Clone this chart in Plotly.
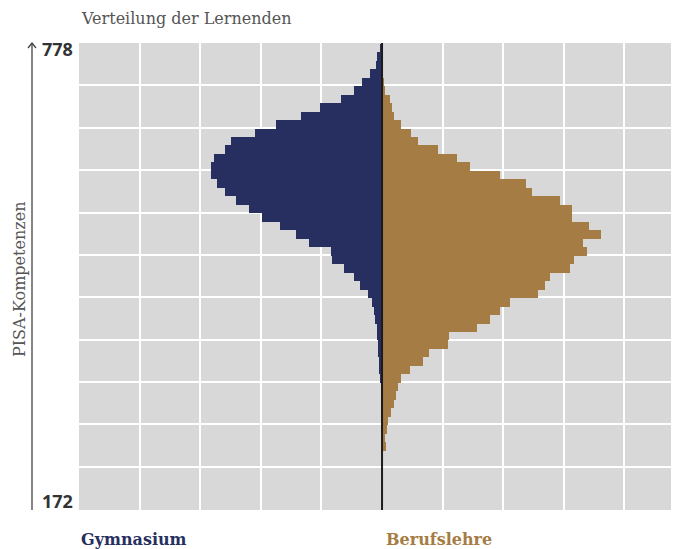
import plotly.graph_objects as go

# ---- data ------------------------------------------------------------
# PISA score bins (lower edges), from the top of the chart downwards
score_bins = [766, 755, 744, 733, 722, 711, 700, 689, 678, 667,
              656, 645, 634, 623, 612, 601, 590, 579, 568, 557,
              546, 535, 524, 513, 502, 491, 480, 469, 458, 447,
              436, 425, 414, 403, 392, 381, 370, 359, 348, 337,
              326, 315, 304, 293, 282, 271, 260, 249, 238, 227,
              216, 205, 194, 183, 172]
bin_width = 11

# share of learners per bin (grid units)
gymnasium = [0.03, 0.08, 0.10, 0.20, 0.33, 0.46, 0.68, 1.02, 1.33, 1.75,
             2.09, 2.49, 2.59, 2.78, 2.83, 2.82, 2.73, 2.59, 2.41, 2.19,
             1.98, 1.68, 1.42, 1.20, 0.84, 0.82, 0.63, 0.46, 0.36, 0.23,
             0.17, 0.13, 0.11, 0.09, 0.08, 0.07, 0.06, 0.05, 0.05, 0.03,
             0.02, 0.01, 0.01, 0.01, 0.01, 0.01, 0.0, 0.0, 0.0, 0.0,
             0.0, 0.0, 0.0, 0.0, 0.0]
berufslehre = [0.0, 0.0, 0.0, 0.0, 0.02, 0.05, 0.13, 0.16, 0.20, 0.31,
               0.48, 0.60, 0.92, 1.24, 1.45, 1.95, 2.38, 2.48, 2.93, 3.13,
               3.13, 3.42, 3.62, 3.32, 3.39, 3.16, 3.10, 2.77, 2.69, 2.57,
               2.11, 1.94, 1.78, 1.56, 1.10, 1.09, 0.77, 0.68, 0.46, 0.32,
               0.27, 0.23, 0.20, 0.14, 0.10, 0.08, 0.05, 0.07, 0.0, 0.0,
               0.0, 0.0, 0.0, 0.0, 0.0]

y_min, y_max = 172, 778
y_grid = [778, 723, 668, 613, 558, 503, 448, 393, 338, 283, 228, 172]
x_grid = [-5, -4, -3, -2, -1, 0, 1, 2, 3, 4]

# ---- style -----------------------------------------------------------
NAVY = "#262f5f"
GOLD = "#a67c45"
GRAY_BG = "#d8d8d8"
TEXT_GRAY = "#555555"
SERIF = "DejaVu Serif"

centers = [b + bin_width / 2 for b in score_bins]

fig = go.Figure()
fig.add_trace(go.Bar(
    y=centers, x=[-v for v in gymnasium], orientation="h",
    width=bin_width, marker=dict(color=NAVY, line=dict(width=0)),
    name="Gymnasium", hoverinfo="skip"))
fig.add_trace(go.Bar(
    y=centers, x=berufslehre, orientation="h",
    width=bin_width, marker=dict(color=GOLD, line=dict(width=0)),
    name="Berufslehre", hoverinfo="skip"))

# the page body has an 8px margin; work in page pixels and compensate
OFF = 8
PAGE_W, PAGE_H = 679, 549
W, H = PAGE_W - OFF, PAGE_H - OFF
plot_l, plot_r, plot_t, plot_b = 79, 679, 43, 510   # page pixels
ml, mr, mt, mb = plot_l - OFF, PAGE_W - plot_r, plot_t - OFF, PAGE_H - plot_b
pw, ph = plot_r - plot_l, plot_b - plot_t


def px_x(p):
    return (p - plot_l) / pw


def px_y(p):
    return (plot_b - p) / ph


fig.update_layout(
    width=W, height=H, autosize=False,
    margin=dict(l=ml, r=mr, t=mt, b=mb, pad=0),
    paper_bgcolor="white", plot_bgcolor=GRAY_BG,
    barmode="overlay", bargap=0, showlegend=False,
    xaxis=dict(range=[-5, 4.9], tickvals=x_grid, showticklabels=False,
               showgrid=True, gridcolor="white", gridwidth=2.2,
               zeroline=False, showline=False, fixedrange=True),
    yaxis=dict(range=[y_min, y_max], tickvals=y_grid, showticklabels=False,
               showgrid=True, gridcolor="white", gridwidth=2.2,
               zeroline=False, showline=False, fixedrange=True),
)

# centre line
fig.add_shape(type="line", xref="x", yref="y", x0=0, x1=0, y0=y_min, y1=y_max,
              line=dict(color="#1c1c1c", width=2), layer="above")

# vertical axis arrow
ax_x = px_x(32)
fig.add_shape(type="line", xref="paper", yref="paper",
              x0=ax_x, x1=ax_x, y0=px_y(510), y1=px_y(43),
              line=dict(color="#444444", width=1.3))
fig.add_shape(type="path", xref="paper", yref="paper",
              path=f"M {px_x(28)},{px_y(48)} L {ax_x},{px_y(43)} L {px_x(36)},{px_y(48)}",
              line=dict(color="#444444", width=1.3))

annotations = [
    dict(text="Verteilung der Lernenden", x=px_x(79), y=px_y(18),
         xanchor="left", yanchor="middle",
         font=dict(family=SERIF, size=16, color=TEXT_GRAY)),
    dict(text="<b>778</b>", x=px_x(75), y=px_y(49), xanchor="right", yanchor="middle",
         font=dict(family="Noto Sans", size=18, color="#333333")),
    dict(text="<b>172</b>", x=px_x(75), y=px_y(501), xanchor="right", yanchor="middle",
         font=dict(family="Noto Sans", size=18, color="#333333")),
    dict(text="PISA-Kompetenzen", x=px_x(19), y=px_y(280), textangle=-90,
         xanchor="center", yanchor="middle",
         font=dict(family=SERIF, size=16, color=TEXT_GRAY)),
    dict(text="<b>Gymnasium</b>", x=px_x(79), y=px_y(539), xanchor="left", yanchor="middle",
         font=dict(family=SERIF, size=16, color=NAVY)),
    dict(text="<b>Berufslehre</b>", x=px_x(384), y=px_y(539), xanchor="left", yanchor="middle",
         font=dict(family=SERIF, size=16, color=GOLD)),
]
for a in annotations:
    a.update(xref="paper", yref="paper", showarrow=False)
fig.update_layout(annotations=annotations)

fig.write_html("out.html")
